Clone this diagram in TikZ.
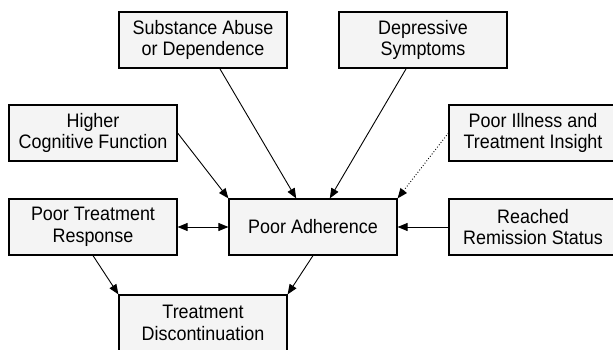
\documentclass[tikz,border=0pt]{standalone}
\usepackage{fontspec}
\setmainfont{Liberation Sans}[FakeStretch=0.92]
\usetikzlibrary{arrows.meta}
\definecolor{boxfill}{RGB}{244,244,244}

\begin{document}
\begin{tikzpicture}[x=1pt, y=-1pt,
    factor/.style={rectangle, draw=black, line width=1.2pt, fill=boxfill,
        minimum width=168pt, minimum height=56pt, inner sep=0pt, align=center,
        font=\fontsize{19.5}{21.5}\selectfont},
    link/.style={line width=0.9pt, -{Triangle[length=10pt,width=8pt]}}
]
    \useasboundingbox (0,0) rectangle (613,350);
    \clip (0,0) rectangle (613,350);
    \node[factor] (sub) at (203,40) {Substance Abuse\\or Dependence};
    \node[factor] (dep) at (423,40) {Depressive\\Symptoms};
    \node[factor] (hcf) at (93,133) {Higher\\Cognitive Function};
    \node[factor] (pii) at (533,133) {Poor Illness and\\Treatment Insight};
    \node[factor] (ptr) at (93,227) {Poor Treatment\\Response};
    \node[factor] (pa) at (313,227) {Poor Adherence};
    \node[factor] (rrs) at (533,227) {Reached\\Remission Status};
    \node[factor] (td) at (203,323) {Treatment\\Discontinuation};
    \draw[link] (sub) -- (pa);
    \draw[link] (dep) -- (pa);
    \draw[link] (hcf.east) -- (pa.north west);
    \draw[link, dotted] (pii.west) -- (pa.north east);
    \draw[link] (rrs) -- (pa);
    \draw[link, {Triangle[length=10pt,width=8pt]}-{Triangle[length=10pt,width=8pt]}] (ptr) -- (pa);
    \draw[link] (ptr.south) -- (td.north west);
    \draw[link] (pa.south) -- (td.north east);
\end{tikzpicture}
\end{document}
